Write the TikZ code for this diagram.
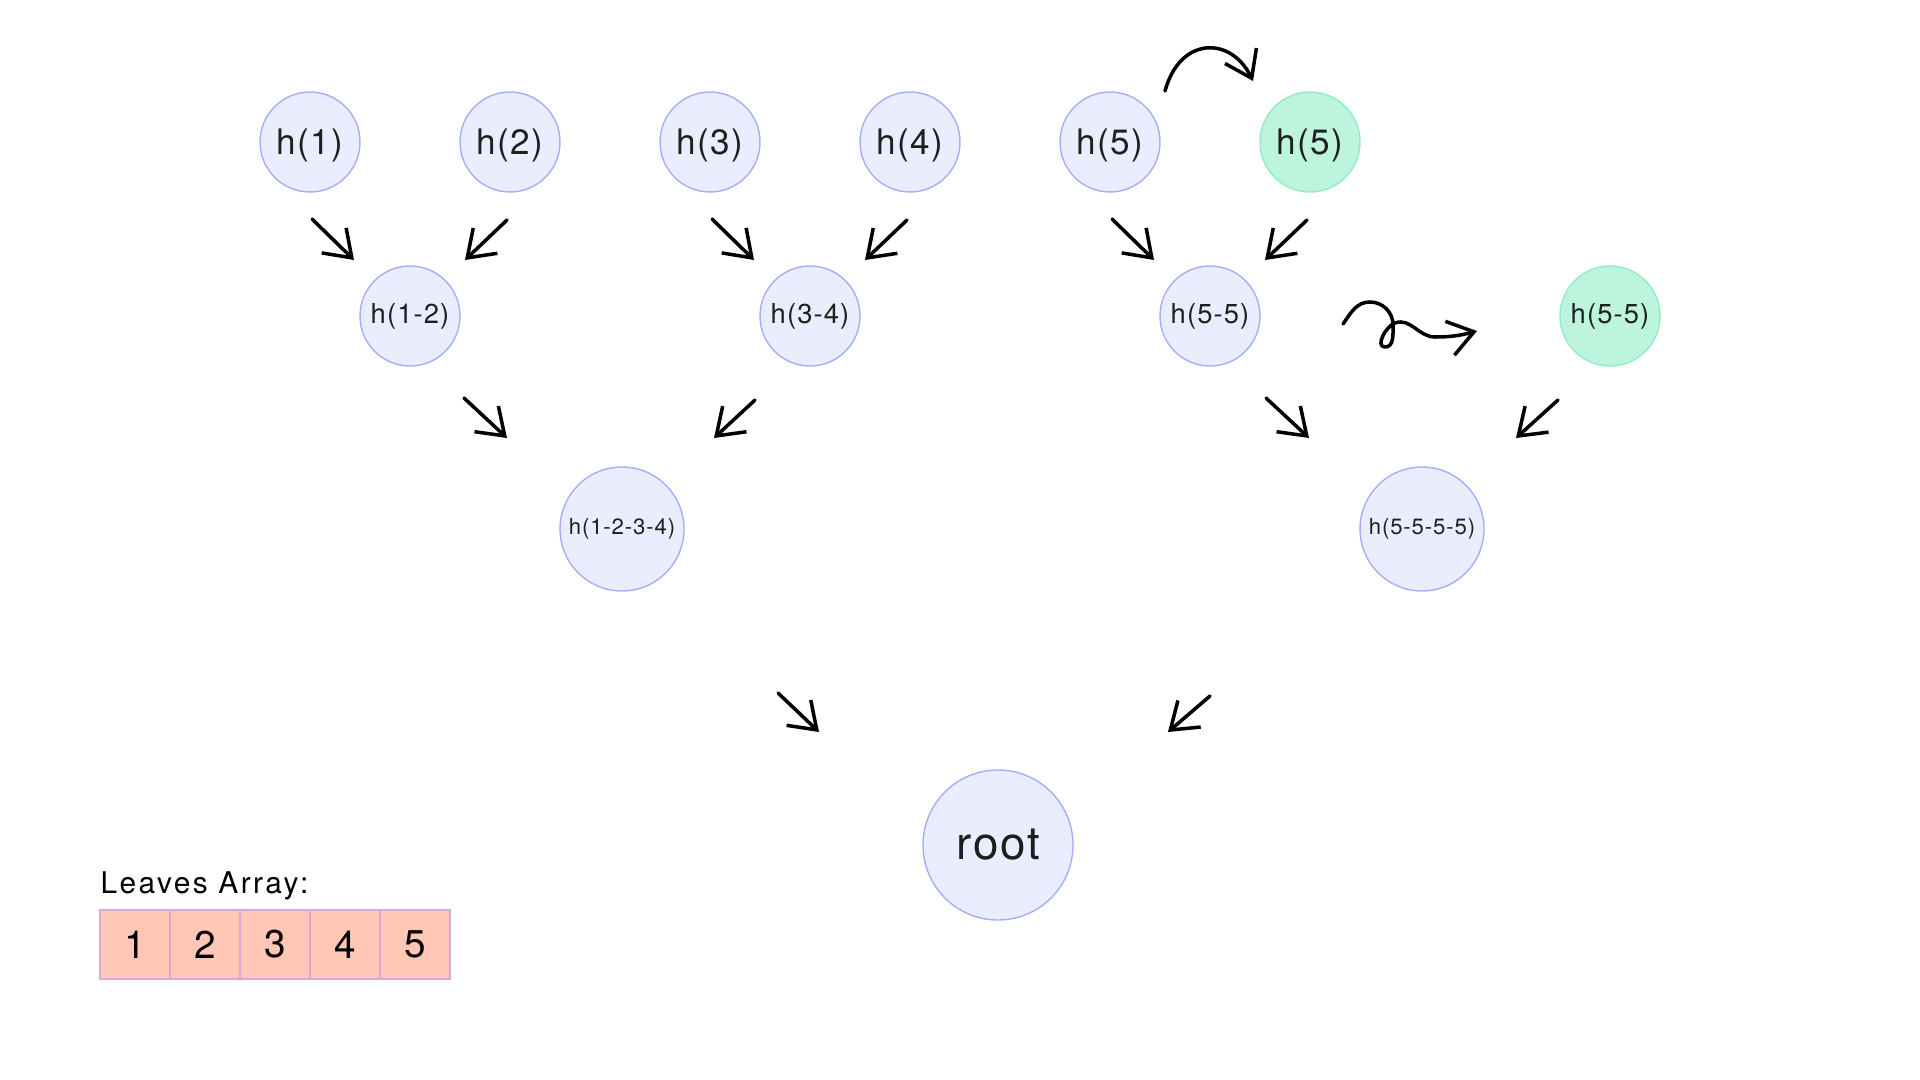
\documentclass[tikz,border=0pt]{standalone}
\usepackage{fontspec}
\setmainfont{TeX Gyre Heros}[LetterSpace=4]
\newfontfamily\spacedfont[LetterSpace=8]{TeX Gyre Heros}
\usetikzlibrary{arrows.meta}
\definecolor{nodefill}{RGB}{234,237,254}
\definecolor{nodeline}{RGB}{166,174,252}
\definecolor{dupfill}{RGB}{189,244,221}
\definecolor{dupline}{RGB}{144,236,200}
\definecolor{leaffill}{RGB}{255,200,182}
\definecolor{leafline}{RGB}{214,170,212}

\begin{document}
\begin{tikzpicture}[
  hash/.style={circle, draw=nodeline, fill=nodefill, line width=0.4pt, minimum size=1cm, inner sep=0pt, text=black!88},
  dupcol/.style={draw=dupline, fill=dupfill},
  leafh/.style={hash, font=\fontsize{10}{12}\selectfont, text height=9pt, text depth=2.1pt},
  pairh/.style={hash, font=\fontsize{7.8}{10}\selectfont},
  quadh/.style={hash, minimum size=1.24cm, font=\fontsize{6.3}{8}\selectfont},
  cell/.style={rectangle, draw=leafline, fill=leaffill, line width=0.4pt, minimum width=0.7cm, minimum height=0.69cm, inner sep=0pt, font=\fontsize{11}{13}\selectfont},
  arr/.style={-{Straight Barb[length=0.25cm, width=0.35cm]}, line width=1pt, line cap=round, line join=round},
]
  \useasboundingbox (0,0) rectangle (19.2,-10.8);

  \node[leafh] (h1) at (3.10,-1.42) {h(1)};
  \node[leafh] (h2) at (5.10,-1.42) {h(2)};
  \node[leafh] (h3) at (7.10,-1.42) {h(3)};
  \node[leafh] (h4) at (9.10,-1.42) {h(4)};
  \node[leafh] (h5) at (11.10,-1.42) {h(5)};
  \node[leafh, dupcol] (h5c) at (13.10,-1.42) {h(5)};

  \node[pairh] (h12) at (4.10,-3.16) {h(1-2)};
  \node[pairh] (h34) at (8.10,-3.16) {h(3-4)};
  \node[pairh] (h55) at (12.10,-3.16) {h(5-5)};
  \node[pairh, dupcol] (h55c) at (16.10,-3.16) {h(5-5)};

  \node[quadh] (h1234) at (6.22,-5.29) {h(1-2-3-4)};
  \node[quadh] (h5555) at (14.22,-5.29) {h(5-5-5-5)};

  \node[hash, minimum size=1.5cm, font=\fontsize{13}{16}\selectfont] (root) at (9.98,-8.45) {root};

  \foreach \p/\c in {h1/h12, h3/h34, h5/h55}
    \draw[arr] ([shift={(0.02,-0.77)}]\p.center) -- ([shift={(-0.56,0.56)}]\c.center);
  \foreach \p/\c in {h2/h12, h4/h34, h5c/h55}
    \draw[arr] ([shift={(-0.03,-0.78)}]\p.center) -- ([shift={(0.55,0.56)}]\c.center);

  \draw[arr] ([shift={(0.54,-0.82)}]h12.center) -- ([shift={(-1.15,0.91)}]h1234.center);
  \draw[arr] ([shift={(-0.55,-0.84)}]h34.center) -- ([shift={(0.92,0.91)}]h1234.center);
  \draw[arr] ([shift={(0.56,-0.82)}]h55.center) -- ([shift={(-1.13,0.91)}]h5555.center);
  \draw[arr] ([shift={(-0.52,-0.84)}]h55c.center) -- ([shift={(0.94,0.91)}]h5555.center);

  \draw[arr] ([shift={(1.56,-1.64)}]h1234.center) -- ([shift={(-1.79,1.13)}]root.center);
  \draw[arr] ([shift={(-2.12,-1.67)}]h5555.center) -- ([shift={(1.70,1.13)}]root.center);

  \draw[arr] ([shift={(0.55,0.51)}]h5.center) .. controls +(0.15,0.55) and +(-0.22,0.45) .. ([shift={(-0.57,0.61)}]h5c.center);

  \draw[arr] ([shift={(1.33,-0.08)}]h55.center) to[out=55,in=180] ++(0.27,0.22)
    to[out=0,in=90] ++(0.23,-0.23) to[out=-90,in=0] ++(-0.08,-0.22)
    to[out=180,in=200] ++(0.10,0.24) to[out=20,in=180] ++(0.40,-0.14)
    to[out=0,in=195] ([shift={(-1.33,-0.15)}]h55c.center);

  \node[anchor=base west, inner sep=0pt, font=\spacedfont\fontsize{8.5}{10}\selectfont] (lbl) at (1.0,-8.93) {Leaves Array:};
  \foreach \v [count=\i from 0] in {1,...,5}
    \node[cell] (l\v) at (1.35+0.7*\i,-9.445) {\v};
\end{tikzpicture}
\end{document}
